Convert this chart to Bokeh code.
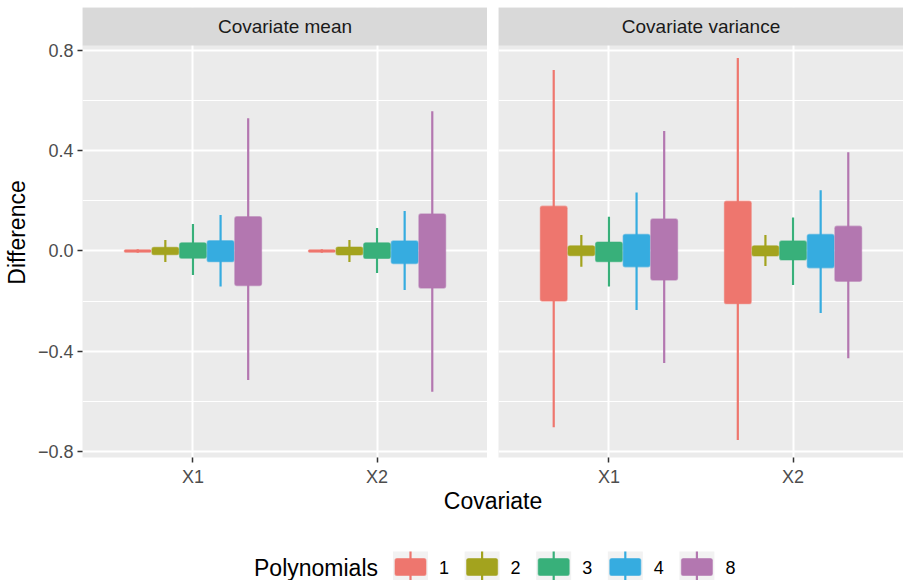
from bokeh.plotting import figure
from bokeh.layouts import column, row
from bokeh.models import Range1d, FixedTicker, ColumnDataSource
from bokeh.core.properties import value
from bokeh.embed import file_html
from bokeh.resources import INLINE

# ---------------- data ----------------
facets = ["Covariate mean", "Covariate variance"]
covariates = ["X1", "X2"]
polynomials = ["1", "2", "3", "4", "8"]
colors = ["#EE766E", "#A3A31E", "#38B07A", "#36ACE0", "#B377B0"]

# Covariate mean panel
mean_X1_low = [-0.007, -0.044, -0.096, -0.142, -0.515]
mean_X1_q1 = [-0.005, -0.015, -0.029, -0.043, -0.138]
mean_X1_q3 = [0.005, 0.015, 0.033, 0.041, 0.137]
mean_X1_high = [0.007, 0.044, 0.108, 0.144, 0.530]

mean_X2_low = [-0.007, -0.044, -0.088, -0.156, -0.562]
mean_X2_q1 = [-0.005, -0.016, -0.030, -0.050, -0.148]
mean_X2_q3 = [0.005, 0.016, 0.033, 0.040, 0.148]
mean_X2_high = [0.007, 0.044, 0.092, 0.160, 0.558]

# Covariate variance panel
var_X1_low = [-0.703, -0.063, -0.142, -0.235, -0.447]
var_X1_q1 = [-0.200, -0.019, -0.043, -0.063, -0.116]
var_X1_q3 = [0.179, 0.021, 0.036, 0.066, 0.128]
var_X1_high = [0.722, 0.064, 0.137, 0.233, 0.479]

var_X2_low = [-0.754, -0.060, -0.136, -0.247, -0.428]
var_X2_q1 = [-0.210, -0.020, -0.036, -0.067, -0.121]
var_X2_q3 = [0.199, 0.021, 0.040, 0.066, 0.099]
var_X2_high = [0.770, 0.064, 0.134, 0.242, 0.394]

y_ticks = [-0.8, -0.4, 0.0, 0.4, 0.8]
y_minor = [-0.6, -0.2, 0.2, 0.6]
y_tick_labels = ["\u22120.8", "\u22120.4", "0.0", "0.4", "0.8"]

# ---------------- styling / layout ----------------
FONT = "Liberation Sans"
SMALL = "18px"
STRIP = "19px"
BIG = "23px"
PANEL_BG = "#EBEBEB"
STRIP_BG = "#D9D9D9"

top_border = 7
panel_w = 405
panel_h = 412
strip_h = 38
left_border = 82
gap = 11
bottom_border = 32
y_lo, y_hi = -0.824, 0.82
px_per_unit = panel_h / (y_hi - y_lo)
y_top = y_lo + (panel_h + strip_h) / px_per_unit
x_lo, x_hi = 0.4, 2.6
box_w = 0.15


def make_panel(title, data, show_y):
    lw = left_border if show_y else gap
    p = figure(width=lw + panel_w, height=top_border + panel_h + strip_h + bottom_border,
               x_range=Range1d(x_lo, x_hi), y_range=Range1d(y_lo, y_top),
               toolbar_location=None, output_backend="svg",
               y_axis_location="left" if show_y else None,
               min_border_left=lw, min_border_right=0, min_border_top=top_border,
               min_border_bottom=bottom_border)
    p.background_fill_color = PANEL_BG
    p.border_fill_color = "white"
    p.outline_line_color = None

    # grid
    p.xgrid.ticker = FixedTicker(ticks=[1, 2])
    p.xgrid.grid_line_color = "white"
    p.xgrid.grid_line_width = 2
    p.ygrid.ticker = FixedTicker(ticks=y_ticks, minor_ticks=y_minor)
    p.ygrid.grid_line_color = "white"
    p.ygrid.grid_line_width = 2
    p.ygrid.minor_grid_line_color = "white"
    p.ygrid.minor_grid_line_width = 1

    # x axis
    xa = p.xaxis[0]
    xa.ticker = FixedTicker(ticks=[1, 2])
    xa.major_label_overrides = {i + 1: c for i, c in enumerate(covariates)}
    xa.axis_line_color = None
    xa.minor_tick_line_color = None
    xa.major_tick_line_color = "#333333"
    xa.major_tick_line_width = 1.5
    xa.major_tick_out = 5
    xa.major_tick_in = 0
    xa.major_label_standoff = 4
    xa.major_label_text_font = FONT
    xa.major_label_text_font_size = SMALL
    xa.major_label_text_color = "#4D4D4D"

    if show_y:
        ya = p.yaxis[0]
        ya.ticker = FixedTicker(ticks=y_ticks)
        ya.major_label_overrides = {t: l for t, l in zip(y_ticks, y_tick_labels)}
        ya.axis_line_color = None
        ya.minor_tick_line_color = None
        ya.major_tick_line_color = "#333333"
        ya.major_tick_line_width = 1.5
        ya.major_tick_out = 5
        ya.major_tick_in = 0
        ya.major_label_standoff = 4
        ya.major_label_text_font = FONT
        ya.major_label_text_font_size = SMALL
        ya.major_label_text_color = "#4D4D4D"
        ya.axis_label = "Difference"
        ya.axis_label_text_font = FONT
        ya.axis_label_text_font_size = BIG
        ya.axis_label_text_font_style = "normal"
        ya.axis_label_text_color = "black"
        ya.axis_label_standoff = 5

    # boxes
    xs, lo, q1, q3, hi, col = [], [], [], [], [], []
    for ci, (low, b1, b3, high) in enumerate(data):
        for i in range(len(polynomials)):
            xs.append(ci + 1 + (i - 2) * box_w)
            lo.append(low[i]); q1.append(b1[i]); q3.append(b3[i]); hi.append(high[i])
            col.append(colors[i])
    src = ColumnDataSource(dict(x=xs, lo=lo, q1=q1, q3=q3, hi=hi, c=col))
    p.segment(x0="x", y0="lo", x1="x", y1="hi", source=src, line_color="c", line_width=2.2)
    p.vbar(x="x", width=box_w * 0.97, bottom="q1", top="q3", source=src,
           fill_color="c", line_color="c", line_alpha=0.55, line_width=1.2,
           border_radius=2)

    # strip
    p.quad(left=[x_lo], right=[x_hi], bottom=[y_hi], top=[y_top],
           fill_color=STRIP_BG, line_color=None)
    p.text(x=[(x_lo + x_hi) / 2], y=[(y_hi + y_top) / 2], text=[title],
           text_align="center", text_baseline="middle",
           text_font=value(FONT), text_font_size=STRIP, text_color="#1A1A1A")
    return p


p1 = make_panel(facets[0], [(mean_X1_low, mean_X1_q1, mean_X1_q3, mean_X1_high),
                            (mean_X2_low, mean_X2_q1, mean_X2_q3, mean_X2_high)], True)
p2 = make_panel(facets[1], [(var_X1_low, var_X1_q1, var_X1_q3, var_X1_high),
                            (var_X2_low, var_X2_q1, var_X2_q3, var_X2_high)], False)

# ---------------- bottom: axis title + legend (page pixel coords) ----------------
total_w = left_border + panel_w + gap + panel_w
top_y = top_border + panel_h + strip_h + bottom_border
bot_y = 580
p3 = figure(width=total_w, height=bot_y - top_y,
            x_range=Range1d(0, total_w), y_range=Range1d(bot_y, top_y),
            toolbar_location=None, output_backend="svg",
            x_axis_location=None, y_axis_location=None, min_border=0)
p3.xgrid.visible = False
p3.ygrid.visible = False
p3.outline_line_color = None
p3.background_fill_color = "white"
p3.border_fill_color = "white"

center_x = left_border + (2 * panel_w + gap) / 2
p3.text(x=[center_x], y=[500], text=["Covariate"], text_align="center",
        text_baseline="middle", text_font=value(FONT), text_font_size=BIG, text_color="black")

leg_y = 567
leg_left = center_x - 239
key_w = 35
pitch = 71.6
key0 = leg_left + 139
p3.text(x=[leg_left], y=[leg_y], text=["Polynomials"], text_align="left",
        text_baseline="middle", text_font=value(FONT), text_font_size=BIG, text_color="black")
kx = [key0 + i * pitch for i in range(len(polynomials))]
p3.quad(left=kx, right=[k + key_w for k in kx], top=[leg_y - 16] * len(kx),
        bottom=[leg_y + 18] * len(kx), fill_color="#F2F2F2", line_color=None)
p3.segment(x0=[k + key_w / 2 for k in kx], y0=[leg_y - 16] * len(kx),
           x1=[k + key_w / 2 for k in kx], y1=[leg_y + 18] * len(kx),
           line_color=colors, line_width=2.2)
p3.quad(left=[k + 2 for k in kx], right=[k + key_w - 2 for k in kx],
        top=[leg_y - 9] * len(kx), bottom=[leg_y + 8] * len(kx),
        fill_color=colors, line_color=colors, line_alpha=0.55, line_width=1.2, border_radius=2)
p3.text(x=[k + key_w + 11 for k in kx], y=[leg_y] * len(kx), text=polynomials,
        text_align="left", text_baseline="middle", text_font=value(FONT),
        text_font_size=SMALL, text_color="black")

layout = column(row(p1, p2), p3)
open("out.html", "w").write(file_html(layout, INLINE))
